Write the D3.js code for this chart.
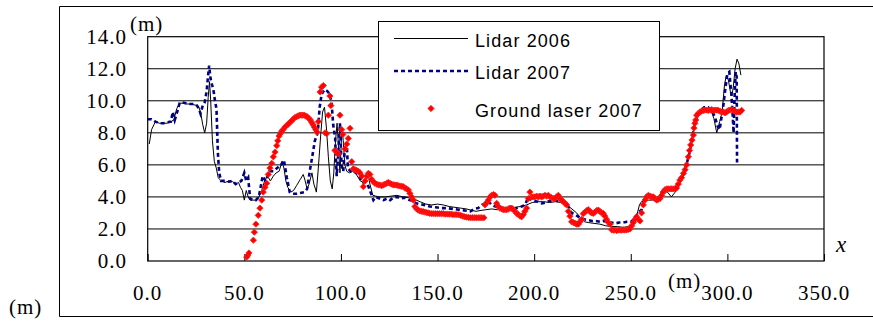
<!DOCTYPE html>
<html><head><meta charset="utf-8">
<script src="https://cdn.jsdelivr.net/npm/d3@7"></script>
<style>html,body{margin:0;padding:0;background:#fff;}svg{display:block;}
.serif{font-family:"Liberation Serif","DejaVu Serif","Times New Roman",serif;font-size:21px;letter-spacing:1px;}
</style>
</head><body>
<svg id="c" width="873" height="321"></svg>
<script>
const xTicks = [0, 50, 100, 150, 200, 250, 300, 350];
const yTicks = [0, 2, 4, 6, 8, 10, 12, 14];
const seriesNames = ["Lidar 2006", "Lidar 2007", "Ground laser 2007"];

const lidar2006 = [[0.8,7.3],[2,8.2],[4,8.7],[6,8.6],[8,8.6],[10,8.6],[12,8.7],[13.5,8.8],[15,9.5],[16.5,9.85],[18,9.85],[20,9.8],[22,9.8],[24,9.75],[25.5,9.7],[26.5,9.6],[27.5,9.2],[28.5,8.5],[29.5,8.0],[30.5,8.6],[31.3,10.2],[32,11.2],[32.6,10.0],[33.5,7.5],[34.5,6.2],[35.5,5.8],[36.5,5.2],[38,5.0],[40,4.9],[42,5.0],[44,4.95],[45.5,4.8],[47,4.9],[48,4.6],[49,4.4],[50,3.8],[51,4.4],[52,4.0],[53,3.8],[54,3.8],[56,3.8],[57.5,4.0],[59,4.4],[60.5,5.0],[62,5.3],[63.5,5.0],[65,5.3],[66.5,5.5],[68,5.6],[69.5,6.2],[70.5,5.8],[71.5,5.0],[72.5,4.6],[74,4.3],[75.5,4.4],[77,4.7],[79,5.1],[80.5,5.4],[81.5,5.0],[82.5,4.5],[83.5,4.8],[85,5.5],[86,4.8],[87.3,4.3],[88.3,5.8],[89.5,7.8],[90.5,9.3],[91.5,9.6],[92.5,8.3],[93.5,6.5],[94.5,5.0],[95.5,4.5],[96.3,5.5],[97.2,7.5],[98,8.6],[98.8,7.0],[99.5,5.5],[100.5,8.3],[101.2,7.5],[102,6.0],[103,5.6],[104.5,5.5],[106,5.6],[108,5.4],[110,5.0],[111.5,4.9],[113,5.2],[114,5.5],[115,4.8],[116.5,4.1],[118,4.05],[120,4.0],[123,4.0],[126,4.05],[129,4.1],[132,4.0],[135,3.95],[138,3.85],[141,3.7],[144,3.55],[147,3.5],[150,3.55],[153,3.5],[156,3.4],[159,3.35],[162,3.3],[165,3.25],[168,3.15],[170,3.1],[172,3.15],[175,3.2],[178,3.25],[181,3.2],[184,3.25],[187,3.3],[190,3.35],[193,3.4],[196,3.5],[199,3.65],[202,3.7],[205,3.7],[208,3.65],[211,3.7],[214,3.65],[216,3.5],[219,3.3],[222,3.0],[224,2.7],[226,2.45],[228,2.4],[231,2.35],[234,2.3],[237,2.2],[240,2.15],[243,2.15],[246,2.1],[249,2.15],[251,2.3],[253,2.8],[254.5,3.5],[255.5,3.7],[257,3.75],[259,3.8],[261,3.8],[263,3.9],[265,4.1],[267,4.5],[269,4.3],[271,4.0],[273,4.3],[275,4.7],[277,5.2],[278.5,5.8],[280,6.5],[281,7.3],[282,7.9],[283,8.5],[284.5,8.9],[286,9.4],[288,9.5],[290,9.5],[291.5,9.4],[293,8.9],[294.5,8.0],[296,8.7],[297.3,9.3],[298.5,11.0],[299.5,11.6],[300.5,11.3],[301.5,10.6],[302.3,10.3],[303,10.8],[304,12.0],[305,12.6],[306,12.3],[307,11.6]];

const lidar2007 = [[0,8.85],[2,8.85],[4,8.7],[6,8.6],[8,8.6],[10,8.65],[12,8.7],[13,9.3],[14,8.8],[15.5,9.4],[16.5,9.85],[18,9.9],[20,9.85],[22,9.8],[24,9.8],[25.5,9.7],[26.5,9.5],[27.3,9.2],[28.5,9.7],[29.5,9.9],[30.5,10.6],[31.2,11.5],[31.8,12.2],[32.5,11.4],[33.3,11.0],[34,10.7],[34.8,10.0],[35.6,9.5],[36.3,6.8],[37,5.5],[38,5.0],[40,5.0],[42,4.95],[44,5.0],[45.5,4.8],[47,4.9],[48.5,5.0],[50,5.5],[51,5.0],[52,5.2],[53,3.9],[54.5,3.8],[56,3.8],[57.5,4.0],[59.5,5.3],[61,5.0],[63,5.6],[65,5.6],[67,5.8],[69,6.0],[70.5,6.3],[72,5.2],[73.5,4.3],[75,4.2],[77,4.2],[79,4.25],[81,4.3],[82.5,4.5],[84,5.7],[85,6.4],[86.5,7.5],[88,8.0],[89,9.6],[90,10.4],[91.5,10.7],[93,10.6],[94.3,10.4],[95.2,9.8],[96,8.5],[97,7.7],[97.8,5.3],[98.5,6.5],[99.5,8.6],[100.3,6.0],[101.2,5.6],[102,7.0],[103,7.4],[103.6,5.8],[105,5.6],[107,5.6],[109,5.4],[110,5.2],[111.6,4.9],[113.3,4.95],[115,4.4],[116.8,3.8],[118,4.0],[120,3.9],[122,3.8],[124,3.9],[125.5,3.8],[127,3.95],[129,4.0],[131,3.9],[133,3.95],[135.5,3.8],[137,3.75],[139,3.6],[141,3.55],[143,3.5],[146,3.4],[149,3.35],[152,3.3],[155,3.3],[158,3.25],[161,3.2],[164,3.15],[167,3.1],[169,3.25],[171,3.3],[173,3.5],[175,3.6],[176.5,3.7],[178,3.5],[180,3.4],[182,3.35],[184,3.3],[186,3.25],[188.5,3.2],[191,3.3],[193.5,3.4],[195.3,3.5],[197,4.0],[198.7,3.8],[200,3.75],[202,3.7],[204,3.6],[206,3.65],[208,3.75],[210.8,3.8],[212.5,3.75],[214.2,3.7],[216,3.6],[217.7,3.4],[219.4,3.0],[221.2,2.9],[223,2.75],[224.6,2.65],[226,2.6],[228,2.55],[230,2.5],[232,2.5],[234,2.45],[236,2.5],[238,2.45],[240,2.4],[242,2.35],[244,2.4],[246,2.4],[248,2.45],[250,2.45],[252,2.6],[253.7,3.0],[255.6,3.2],[257.4,3.9],[259,4.0],[261,3.9],[263,3.8],[265,3.9],[266.7,4.5],[267.7,4.3],[269,4.4],[271,4.5],[273,4.55],[275,4.9],[277,5.4],[279,6.1],[280.5,6.8],[282,7.8],[283,8.5],[284.5,9.0],[286,9.4],[288,9.6],[290,9.6],[292,9.4],[293.5,9.0],[295,8.4],[296,8.2],[297,9.0],[298,9.8],[299,10.8],[300,11.7],[301,11.8],[302,10.5],[302.7,9.2],[303.2,8.0],[303.8,10.5],[304.3,11.8],[304.8,11.5],[305,6.15]];

const groundLaser2007 = [[51.2,0.25],[51.8,0.35],[52.4,0.5],[54.7,1.3],[55.2,1.8],[56,2.3],[57.2,2.85],[58.1,3.3],[59,3.8],[59.8,4.3],[60.7,4.6],[61.6,4.85],[62.4,5.4],[63.3,5.8],[64.2,6.1],[65,6.5],[65.9,6.8],[66.8,7.2],[67.3,7.5],[68,7.8],[68.7,7.95],[69.3,8.1],[70.1,8.2],[71,8.35],[71.8,8.45],[72.8,8.55],[73.6,8.65],[74.5,8.75],[75.3,8.85],[76.1,8.95],[77,9.0],[77.8,9.05],[78.6,9.1],[79.4,9.1],[80.2,9.1],[81,9.1],[81.8,9.05],[82.6,9.0],[83.4,8.9],[84.2,8.8],[84.9,8.65],[85.6,8.5],[86.3,8.35],[87,8.2],[87.6,8.05],[88.3,8.7],[89.2,10.55],[90,10.85],[90.9,10.95],[91.8,8.0],[92.6,7.95],[93.5,9.1],[94.3,10.3],[94.8,9.7],[96.9,6.9],[97.8,6.8],[98.6,6.7],[99.5,9.1],[100.4,8.2],[101,7.9],[102.1,7.0],[103,7.3],[103.8,7.65],[104.7,8.28],[105.6,6.2],[106.4,5.75],[107.3,5.7],[108.2,5.65],[109,5.6],[109.9,5.5],[110.8,5.3],[111.6,4.64],[112.5,5.0],[113.4,5.3],[114.2,5.47],[115,5.4],[115.9,5.1],[116.8,4.95],[117.6,4.85],[118.5,4.8],[119.4,4.75],[120.2,4.74],[121.1,4.7],[122,4.75],[122.8,4.8],[123.7,4.85],[124.5,4.9],[125.4,4.85],[126.2,4.8],[127.1,4.75],[128,4.75],[128.9,4.74],[129.7,4.7],[130.6,4.68],[131.5,4.66],[132.3,4.64],[133.2,4.55],[134,4.5],[134.9,4.43],[135.7,4.22],[136.6,4.0],[137.5,3.8],[138.3,3.4],[139.2,3.25],[140,3.18],[140.9,3.12],[141.8,3.1],[142.6,3.08],[143.5,3.05],[144.4,3.02],[145.2,3.0],[146,2.97],[147,2.96],[148,2.95],[149,2.95],[150,2.95],[151,2.95],[152,2.95],[153,2.95],[154,2.93],[155,2.93],[156,2.92],[157,2.92],[158,2.9],[159,2.9],[160,2.9],[161,2.88],[162,2.85],[163,2.8],[164,2.76],[165,2.74],[166,2.72],[167,2.7],[168,2.7],[169,2.7],[170,2.7],[171,2.7],[172,2.7],[173,2.7],[174,2.7],[174.6,3.5],[175.5,3.65],[176.3,3.8],[177.2,4.0],[178,4.1],[178.9,4.15],[179.7,4.1],[180.6,3.6],[181.5,3.4],[182.3,3.3],[183.2,3.25],[184,3.2],[184.9,3.2],[185.8,3.2],[186.7,3.25],[187.5,3.3],[188.4,3.3],[189.3,3.2],[190.1,3.1],[191,2.97],[191.8,2.9],[192.7,2.8],[193.5,2.76],[194.4,2.9],[195.2,3.1],[196.1,3.3],[197,3.9],[197.8,4.3],[198.7,4.0],[199.5,4.0],[200.4,4.0],[201.3,4.05],[202.1,4.0],[203,4.05],[203.9,4.0],[204.7,4.05],[205.6,4.1],[206.5,4.05],[207.3,4.1],[208.2,4.0],[209,3.95],[209.9,3.9],[210.8,3.9],[211.6,4.0],[212.5,4.1],[213.4,3.9],[214.2,3.8],[215.1,3.7],[216,3.6],[216.8,3.5],[217.7,3.1],[218.5,2.8],[219.4,2.45],[220.3,2.4],[221.2,2.35],[222,2.3],[222.9,2.3],[223.7,2.45],[224.6,2.6],[225.4,2.95],[226.3,3.05],[227.2,3.15],[228,3.2],[228.9,3.1],[229.7,3.0],[230.6,2.97],[231.5,3.05],[232.3,3.15],[233.2,3.18],[234,3.1],[234.9,3.0],[235.8,2.97],[236.6,2.8],[237.5,2.6],[238.4,2.4],[239.3,2.3],[240.1,1.95],[241,1.93],[241.8,1.93],[242.7,1.9],[243.5,1.93],[244.4,1.93],[245.3,1.93],[246.1,1.95],[247,1.93],[247.9,1.95],[248.7,1.97],[249.6,2.0],[250.5,2.2],[251.3,2.4],[252.2,2.6],[253,2.76],[253.9,2.6],[254.8,2.5],[255.6,3.0],[256.5,3.5],[257.4,3.8],[258.2,4.0],[259.1,4.1],[260,4.05],[260.8,4.0],[261.7,4.0],[262.5,3.9],[263.4,3.8],[264.2,3.85],[265.1,3.9],[266,4.1],[266.8,4.3],[267.7,4.45],[268.6,4.5],[269.4,4.5],[270.3,4.5],[271.1,4.5],[272,4.5],[272.9,4.52],[273.7,4.55],[274.6,4.8],[275.4,5.05],[276.3,5.2],[277.3,5.47],[278.1,5.7],[278.9,6.0],[279.8,6.5],[280.4,6.9],[281,7.24],[281.7,7.55],[282.4,7.86],[282.7,8.3],[283.2,8.6],[283.6,8.8],[284.1,9.1],[284.9,9.2],[285.8,9.3],[286.6,9.35],[287.5,9.4],[288.4,9.42],[289.3,9.42],[290.1,9.4],[291,9.42],[291.9,9.45],[292.7,9.4],[293.6,9.42],[294.5,9.42],[295.3,9.4],[296.2,9.35],[297,9.3],[297.9,9.3],[298.8,9.25],[299.6,9.3],[300.5,9.4],[301.3,9.42],[302.2,9.45],[303,9.42],[303.9,9.35],[304.7,9.3],[305.6,9.3],[306.5,9.3],[307.4,9.4]];

const svg = d3.select("#c");
const L = 147.7, R = 824, T = 36.7, B = 261;
const x = d3.scaleLinear().domain([0, 350]).range([L, R]);
const y = d3.scaleLinear().domain([0, 14]).range([B, T]);

// outer frame
svg.append("path").attr("d", "M873,6.5 H59.5 V316.5 H873").attr("fill", "none").attr("stroke", "#000").attr("stroke-width", 1);

// gridlines
svg.append("g").selectAll("line").data(yTicks.filter(d => d > 0 && d < 14)).join("line")
  .attr("x1", L).attr("x2", R).attr("y1", d => y(d)).attr("y2", d => y(d))
  .attr("stroke", "#000").attr("stroke-width", 1);

// plot border
svg.append("rect").attr("x", L).attr("y", T).attr("width", R - L).attr("height", B - T)
  .attr("fill", "none").attr("stroke", "#000").attr("stroke-width", 1.2);

// x axis with inner ticks
const xAxis = d3.axisBottom(x).tickValues(xTicks).tickSizeInner(-7).tickSizeOuter(0).tickFormat(() => "");
const gx = svg.append("g").attr("transform", `translate(0,${B})`).call(xAxis);
gx.select(".domain").remove();
gx.selectAll(".tick line").attr("stroke", "#000");

// x tick labels
svg.append("g").selectAll("text").data(xTicks).join("text").attr("class", "serif")
  .attr("x", d => x(d)).attr("y", 300).attr("text-anchor", "middle")
  .text(d => d3.format(".1f")(d));

// y tick labels
svg.append("g").selectAll("text").data(yTicks).join("text").attr("class", "serif")
  .attr("x", 127).attr("y", d => y(d) + 7).attr("text-anchor", "end")
  .text(d => d3.format(".1f")(d));

svg.append("text").attr("class", "serif").attr("x", 130).attr("y", 31).text("(m)");
svg.append("text").attr("class", "serif").attr("x", 9).attr("y", 314).text("(m)");
svg.append("text").attr("class", "serif").attr("x", 668).attr("y", 288).text("(m)");
svg.append("text").attr("class", "serif").attr("x", 836).attr("y", 252)
  .style("font-size", "23px").style("font-style", "italic").text("x");

const line = d3.line().x(d => x(d[0])).y(d => y(d[1]));

svg.append("path").datum(lidar2006).attr("d", line).attr("fill", "none").attr("stroke", "#000").attr("stroke-width", 1);
svg.append("path").datum(lidar2007).attr("d", line).attr("fill", "none").attr("stroke", "#000080")
  .attr("stroke-width", 2.6).attr("stroke-dasharray", "4,3");

const sym = d3.symbol().type(d3.symbolDiamond2).size(25);
svg.append("g").selectAll("path").data(groundLaser2007).join("path")
  .attr("transform", d => `translate(${x(d[0])},${y(d[1])})`).attr("d", sym)
  .attr("fill", "#ff0000").attr("stroke", "#ff2020").attr("stroke-width", 0.8);

// legend
const lg = svg.append("g");
lg.append("rect").attr("x", 378.5).attr("y", 21.5).attr("width", 281).attr("height", 109)
  .attr("fill", "#fff").attr("stroke", "#000").attr("stroke-width", 1);
const lgRows = [38.5, 71, 108.5];
lg.append("line").attr("x1", 394).attr("x2", 468).attr("y1", lgRows[0]).attr("y2", lgRows[0]).attr("stroke", "#000").attr("stroke-width", 1);
lg.append("line").attr("x1", 394).attr("x2", 469).attr("y1", lgRows[1]).attr("y2", lgRows[1]).attr("stroke", "#000080").attr("stroke-width", 2.6).attr("stroke-dasharray", "4,3");
lg.append("path").attr("transform", `translate(431,${lgRows[2]})`).attr("d", sym).attr("fill", "#ff0000").attr("stroke", "#ff2020").attr("stroke-width", 0.8);
lg.selectAll("text.lt").data(seriesNames).join("text").attr("class", "lt")
  .attr("x", 475).attr("y", (d, i) => lgRows[i] + 8)
  .style("font-family", "'Liberation Sans',Arial,sans-serif").style("font-size", "18px").style("letter-spacing", "1.1px")
  .text(d => d);
</script>
</body></html>
